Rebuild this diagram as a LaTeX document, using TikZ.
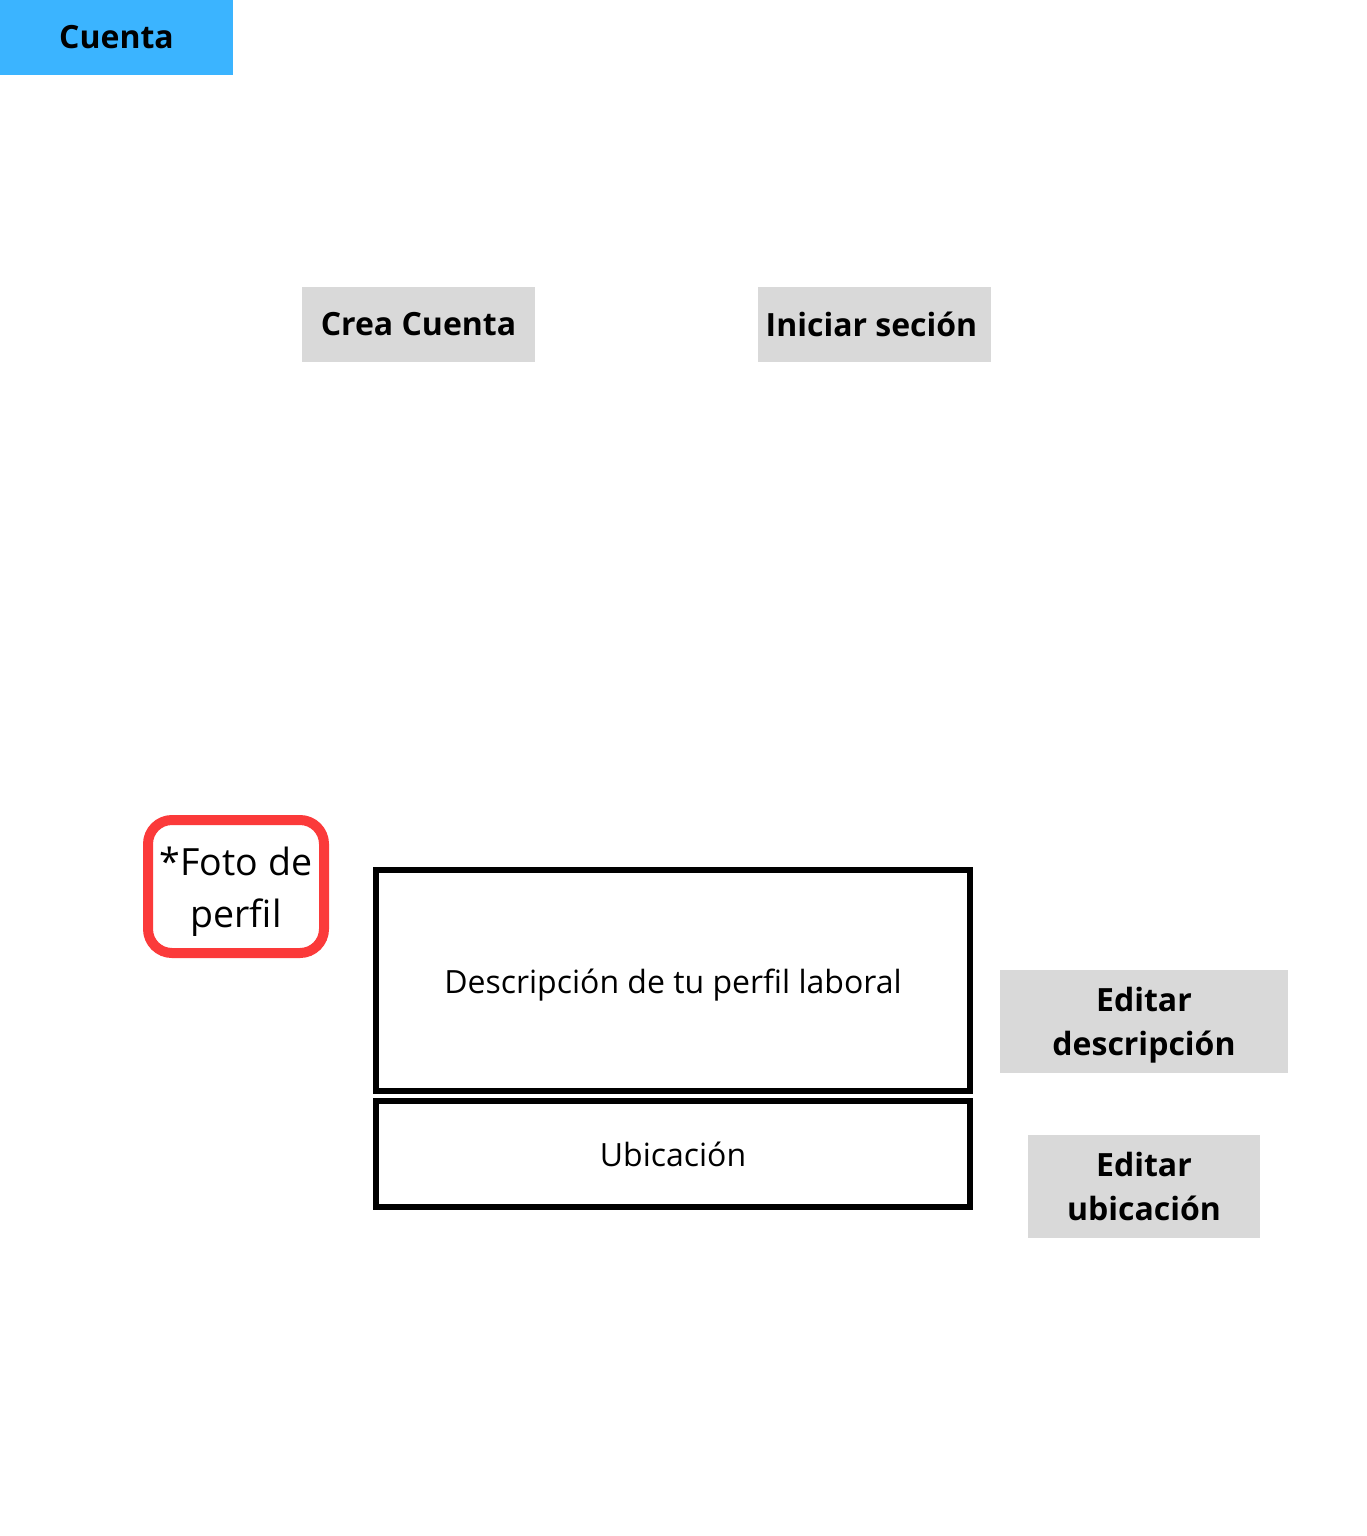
\documentclass[tikz,border=0pt]{standalone}
\usepackage{fontspec}
\setmainfont{Open Sans}
\definecolor{tabblue}{HTML}{3BB4FF}
\definecolor{btngray}{HTML}{D9D9D9}
\definecolor{photored}{HTML}{FB3A3A}
\newcommand{\dropby}[2]{\raisebox{-#1}[\height][\depth]{#2}}
\begin{document}
\begin{tikzpicture}[x=1pt,y=-1pt,
	tab/.style={fill=tabblue,minimum width=233pt,minimum height=75pt,inner sep=0pt,font=\bfseries\fontsize{32}{44}\selectfont},
	btn/.style={fill=btngray,minimum height=75pt,inner sep=0pt,align=center,font=\bfseries\fontsize{32}{44}\selectfont},
	field/.style={draw=black,line width=6pt,minimum width=594pt,inner sep=0pt,font=\fontsize{32}{40}\selectfont}]
		\useasboundingbox (0,0) rectangle (1366,1536);
		%
		\node[tab] (cuenta) at (116.5,37.5) {Cuenta};
		\node[btn,minimum width=233pt] (crea) at (418.5,324.5) {Crea Cuenta};
		\node[btn,minimum width=233pt] (iniciar) at (874.5,324.5) {\hspace*{-6pt}Iniciar seción};
		%
		\node[draw=photored,line width=10pt,rounded corners=24pt,minimum width=176pt,minimum height=133pt,
			inner sep=0pt,align=center,font=\fontsize{37.5}{52}\selectfont] (foto) at (236,886.5) {\rule{0pt}{38.5pt}*Foto de\\perfil};
		%
		\node[field,minimum height=221pt] (desc) at (673,980.5) {\dropby{5pt}{Descripción de tu perfil laboral}};
		\node[field,minimum height=106pt] (ubic) at (673,1154) {Ubicación};
		%
		\node[btn,minimum width=288pt,minimum height=103pt] (editdesc) at (1144,1021.5) {\rule{0pt}{32.5pt}Editar\\descripción};
		\node[btn,minimum width=232pt,minimum height=103pt] (editubic) at (1144,1186.5) {Editar\\ubicación};
		%
\end{tikzpicture}
\end{document}
